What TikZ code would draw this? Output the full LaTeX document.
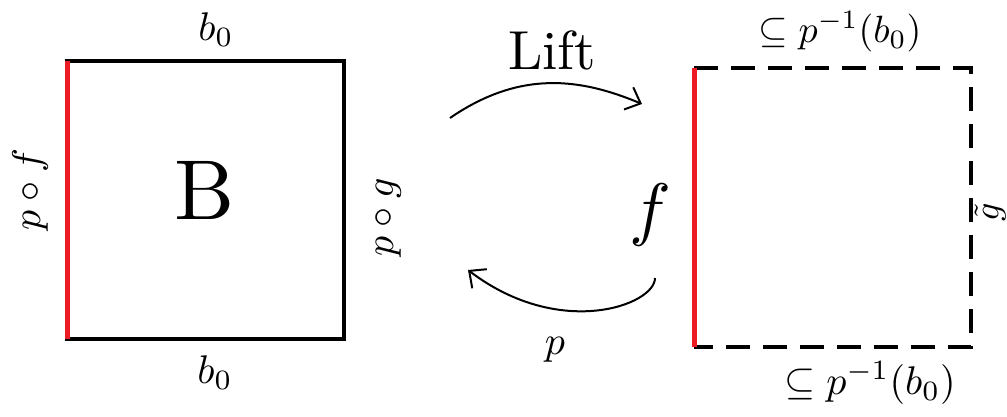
\documentclass[tikz,border=0pt]{standalone}
\usetikzlibrary{arrows.meta}
\begin{document}
\begin{tikzpicture}[x=1pt,y=-1pt,
  edge/.style={line width=3.5pt,line cap=rect},
  rededge/.style={line width=5pt,draw={rgb,255:red,237;green,28;blue,36}},
  dashedge/.style={line width=3.5pt,dash pattern=on 24pt off 13pt},
  lbl/.style={inner sep=0pt,scale=4},
  curvearrow/.style={line width=2pt,-{Straight Barb[length=13pt,width=24pt,line width=2pt]}}]
\fill[white] (0,0) rectangle (1007,417);
\useasboundingbox (0,0) rectangle (1007,417);
% left square
\coordinate (A1) at (67,61);
\coordinate (A2) at (344,61);
\coordinate (A3) at (344,339);
\coordinate (A4) at (67,339);
\draw[edge] (A1) -- (A2) -- (A3) -- (A4);
\draw[rededge] (A1) -- (A4);
% right square
\coordinate (C1) at (694,68);
\coordinate (C2) at (971,68);
\coordinate (C3) at (971,347);
\coordinate (C4) at (694,347);
\draw[dashedge] (C1) -- (C2) -- (C3) -- (C4);
\draw[rededge] (C1) -- (C4);
% labels left
\node[lbl] (btop) at (216,30) {$b_0$};
\node[lbl] (bbot) at (215,373) {$b_0$};
\node[inner sep=0pt,scale=8.5] (B) at (205,190) {$\mathrm{B}$};
\node[lbl,rotate=90] (pf) at (30,190) {$p\circ f$};
\node[lbl,rotate=90] (pg) at (388,217) {$p\circ g$};
% middle
\node[inner sep=0pt,scale=5.5] (lift) at (552,50) {Lift};
\node[inner sep=0pt,scale=7] (f) at (650,215) {$f$};
\node[lbl] (p) at (555,350) {$p$};
\coordinate (L1) at (450,118);
\coordinate (L2) at (642,104);
\draw[curvearrow] (L1) .. controls (520,70) and (580,78) .. (L2);
\coordinate (P1) at (655,278);
\coordinate (P2) at (468,270);
\draw[curvearrow] (P1) .. controls (655,305) and (560,340) .. (P2);
% right labels
\node[inner sep=0pt,scale=3.8] (ftop) at (840,32) {$\subseteq p^{-1}(b_0)$};
\node[inner sep=0pt,scale=4] (fbot) at (870,383) {$\subseteq p^{-1}(b_0)$};
\node[inner sep=0pt,scale=3.6,rotate=90] (gt) at (990,212) {$\tilde g$};
\end{tikzpicture}
\end{document}
